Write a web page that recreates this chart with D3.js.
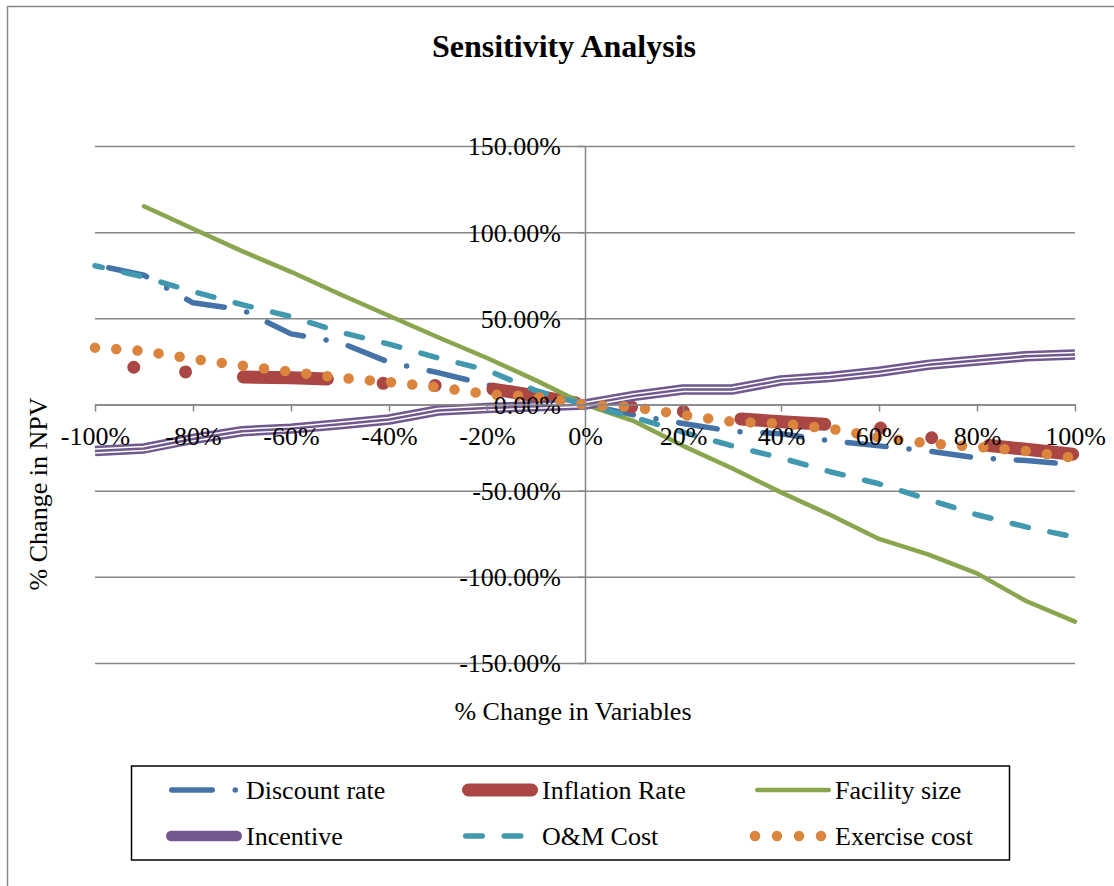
<!DOCTYPE html>
<html>
<head>
<meta charset="utf-8">
<script src="https://cdn.jsdelivr.net/npm/d3@7"></script>
<style>
  html, body { margin: 0; padding: 0; background: #fff; }
  svg { display: block; }
  text { font-family: "Liberation Serif", "Times New Roman", serif; fill: #000; }
</style>
</head>
<body>
<svg id="chart" width="1114" height="886"></svg>
<script>
// Percent change applied to each input variable
const changes = [-100, -90, -80, -70, -60, -50, -40, -30, -20, -10, 0, 10, 20, 30, 40, 50, 60, 70, 80, 90, 100];

// Resulting percent change in NPV, one array per variable
const discountRate  = [81, 75, 59, 55, 41, 36, 24.5, 18.5, 11.5, 5, 0, -6, -11, -15.5, -17, -21, -24, -27, -31, -32.5, -35];
const inflationRate = [24, 21, 18.5, 16, 15.5, 14.5, 12, 11, 9.5, 5, 0, -1.5, -4, -8, -10, -11.6, -13.5, -19, -23, -26, -29];
const facilitySize  = [null, 115, 102, 89, 77, 64, 51.5, 39, 27, 14, 0, -9.7, -24, -37, -51, -64, -78, -87, -98, -114, -126];
const incentive     = [-27, -25.5, -20, -15.5, -14, -11.5, -8.7, -3.5, -2, -1, 0, 5, 8.7, 8.7, 14, 16, 19, 23, 25.5, 28, 29];
const omCost        = [80.5, 74, 65.5, 58, 51, 42, 35, 27, 20, 8, 0, -7.5, -16, -24, -31, -39, -46, -55, -64, -71, -77];
const exerciseCost  = [33, 31, 26.5, 22.5, 19, 15.5, 13, 10, 6, 4.5, 0, -1.5, -6, -10, -11, -14, -19, -22.5, -24.5, -27, -31];

const seriesNames = ["Discount rate", "Inflation Rate", "Facility size", "Incentive", "O&M Cost", "Exercise cost"];

// Axis ticks
const xTickValues = [-100, -80, -60, -40, -20, 0, 20, 40, 60, 80, 100];
const xTickLabels = ["-100%", "-80%", "-60%", "-40%", "-20%", "0%", "20%", "40%", "60%", "80%", "100%"];
const yTickValues = [150, 100, 50, 0, -50, -100, -150];
const yTickLabels = ["150.00%", "100.00%", "50.00%", "0.00%", "-50.00%", "-100.00%", "-150.00%"];

const seriesValues = [discountRate, inflationRate, facilitySize, incentive, omCost, exerciseCost];

// Line styles per series (dash arrays assume round caps); legend keys use their own dash layout
const styles = [
  { color: "#4572A7", width: 5.5, dash: "39 23 0 23", offset: -14, key: { from: 5.75, to: 70, dash: "40.5 23 0 100" } },
  { color: "#AA4643", width: 13,  dash: "84 56 0 52 0 58", offset: 101, key: { from: 6.5, to: 69.5, dash: null } },
  { color: "#89A54E", width: 4.5, dash: null, offset: 0, key: { from: 2.25, to: 73.75, dash: null } },
  { color: "#71588F", width: 10.5, dash: null, offset: 0, compound: true, key: { from: 5.25, to: 70.75, dash: null } },
  { color: "#4198AF", width: 5.5, dash: "16.5 22", offset: 9, key: { from: 3.75, to: 60, dash: "16.5 22" } },
  { color: "#DB843D", width: 10.5, dash: "0 21.3", offset: 0, key: { from: 0, to: 67, dash: "0 22" } }
];

const svg = d3.select("#chart");
const gridColor = "#878787";

// Outer chart frame
svg.append("path")
  .attr("d", "M7.5,886 L7.5,6.5 L1114,6.5")
  .attr("fill", "none").attr("stroke", gridColor).attr("stroke-width", 1.5);

const x = d3.scaleLinear().domain([-100, 100]).range([95, 1075]);
const y = d3.scaleLinear().domain([-150, 150]).range([663, 146]);

// Horizontal gridlines
svg.append("g")
  .attr("transform", `translate(${x(-100)},0)`)
  .call(d3.axisRight(y).tickValues(yTickValues).tickSize(x(100) - x(-100)).tickFormat(""))
  .call(g => g.select(".domain").remove())
  .call(g => g.selectAll(".tick line").attr("stroke", gridColor).attr("stroke-width", 1.5));

// Vertical axis at x = 0
const yAxis = svg.append("g")
  .attr("transform", `translate(${x(0)},0)`)
  .call(d3.axisLeft(y).tickValues(yTickValues).tickSize(7).tickSizeOuter(0)
    .tickFormat((d, i) => yTickLabels[i]));
yAxis.select(".domain").attr("stroke", gridColor).attr("stroke-width", 1.5);
yAxis.selectAll(".tick line").attr("stroke", gridColor).attr("stroke-width", 1.5);
yAxis.selectAll(".tick text")
  .attr("x", -24).attr("dy", "0.34em")
  .style("font-family", "'Liberation Serif', serif").style("font-size", "26px").attr("fill", "#000");

// Horizontal axis at y = 0
const xAxis = svg.append("g")
  .attr("transform", `translate(0,${y(0)})`)
  .call(d3.axisBottom(x).tickValues(xTickValues).tickSize(7).tickSizeOuter(0)
    .tickFormat((d, i) => xTickLabels[i]));
xAxis.select(".domain").attr("stroke", gridColor).attr("stroke-width", 1.5);
xAxis.selectAll(".tick line").attr("stroke", gridColor).attr("stroke-width", 1.5);
xAxis.selectAll(".tick text")
  .attr("y", 40).attr("dy", 0)
  .style("font-family", "'Liberation Serif', serif").style("font-size", "26px").attr("fill", "#000");

// Series lines
const line = d3.line()
  .defined(d => d.v !== null)
  .x(d => x(d.c))
  .y(d => y(d.v));

const plot = svg.append("g");
seriesValues.forEach((vals, i) => {
  const s = styles[i];
  const pts = changes.map((c, j) => ({ c, v: vals[j] }));
  const path = line(pts);
  if (s.compound) {
    // Triple compound stroke: outer band, white gap, thin centre line
    [[s.color, s.width], ["#fff", 5.5], [s.color, 2.5]].forEach(([col, w]) => {
      plot.append("path").attr("d", path).attr("fill", "none")
        .attr("stroke", col).attr("stroke-width", w)
        .attr("stroke-linejoin", "round").attr("stroke-linecap", "butt");
    });
  } else {
    const p = plot.append("path").attr("d", path).attr("fill", "none")
      .attr("stroke", s.color).attr("stroke-width", s.width)
      .attr("stroke-linejoin", "round").attr("stroke-linecap", "round");
    if (s.dash) p.attr("stroke-dasharray", s.dash).attr("stroke-dashoffset", s.offset);
  }
});

// Bring the tick labels above the series
svg.node().appendChild(yAxis.node());
svg.node().appendChild(xAxis.node());

// Titles
svg.append("text")
  .attr("x", 564).attr("y", 57).attr("text-anchor", "middle")
  .style("font-size", "32px").style("font-weight", "bold")
  .text("Sensitivity Analysis");

svg.append("text")
  .attr("x", 573).attr("y", 720).attr("text-anchor", "middle")
  .style("font-size", "26px")
  .text("% Change in Variables");

svg.append("text")
  .attr("transform", "translate(47,494) rotate(-90)")
  .attr("text-anchor", "middle")
  .style("font-size", "26px")
  .text("% Change in NPV");

// Legend
const legend = svg.append("g");
legend.append("rect")
  .attr("x", 131.5).attr("y", 766).attr("width", 878).attr("height", 94)
  .attr("fill", "#fff").attr("stroke", "#000").attr("stroke-width", 1.5);

const legendCols = [166, 462, 755];
const legendRows = [790, 836];
seriesNames.forEach((name, i) => {
  const s = styles[i];
  const col = legendCols[i % 3];
  const row = legendRows[Math.floor(i / 3)];
  const item = legend.append("g");
  const seg = item.append("line")
    .attr("x1", col + s.key.from).attr("x2", col + s.key.to)
    .attr("y1", row).attr("y2", row)
    .attr("stroke", s.color).attr("stroke-width", s.width)
    .attr("stroke-linecap", "round");
  if (s.key.dash) seg.attr("stroke-dasharray", s.key.dash);
  item.append("text")
    .attr("x", col + 80).attr("y", row + 9)
    .style("font-size", "26px")
    .text(name);
});
</script>
</body>
</html>
